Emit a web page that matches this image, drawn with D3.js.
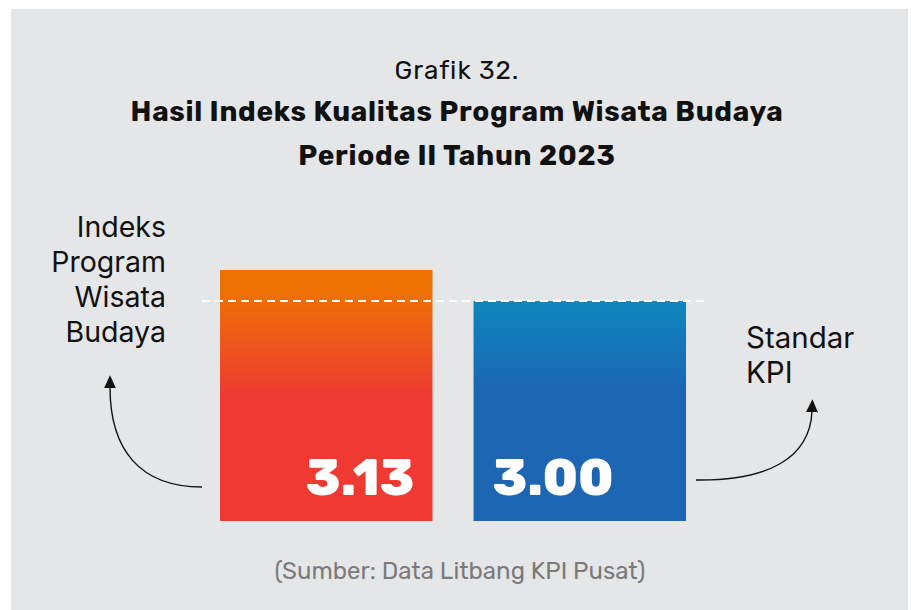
<!DOCTYPE html>
<html>
<head>
<meta charset="utf-8">
<script src="https://cdn.jsdelivr.net/npm/d3@7/dist/d3.min.js"></script>
<style>
  html, body { margin: 0; padding: 0; background: #ffffff; }
  svg { display: block; }
</style>
</head>
<body>
<script>
// Chart data
const categories = ["Indeks Program Wisata Budaya", "Standar KPI"];
const values = [3.13, 3.00];
const valueLabels = ["3.13", "3.00"];
const standardValue = 3.00;
const titleLines = ["Grafik 32.", "Hasil Indeks Kualitas Program Wisata Budaya", "Periode II Tahun 2023"];
const leftNote = ["Indeks", "Program", "Wisata", "Budaya"];
const rightNote = ["Standar", "KPI"];
const sourceText = "(Sumber: Data Litbang KPI Pusat)";

const W = 911, H = 610;
const svg = d3.select("body").append("svg").attr("width", W).attr("height", H);

// panel background
svg.append("rect").attr("x", 11).attr("y", 9).attr("width", 897).attr("height", H - 9).attr("fill", "#e5e6e8");

const defs = svg.append("defs");
const gOrange = defs.append("linearGradient").attr("id", "gradA").attr("x1", 0).attr("y1", 0).attr("x2", 0).attr("y2", 1);
gOrange.append("stop").attr("offset", "0.08").attr("stop-color", "#ee7203");
gOrange.append("stop").attr("offset", "0.5").attr("stop-color", "#ee3a33");
gOrange.append("stop").attr("offset", "1").attr("stop-color", "#ee3a33");
const gBlue = defs.append("linearGradient").attr("id", "gradB").attr("x1", 0).attr("y1", 0).attr("x2", 0).attr("y2", 1);
gBlue.append("stop").attr("offset", "0").attr("stop-color", "#0e87bd");
gBlue.append("stop").attr("offset", "0.4").attr("stop-color", "#1c66b4");
gBlue.append("stop").attr("offset", "1").attr("stop-color", "#1c66b4");
const marker = defs.append("marker").attr("id", "arrow").attr("viewBox", "0 0 10 10")
  .attr("refX", 1).attr("refY", 5).attr("markerWidth", 13).attr("markerHeight", 12)
  .attr("markerUnits", "userSpaceOnUse").attr("orient", "auto").attr("preserveAspectRatio", "none");
marker.append("path").attr("d", "M0,0 L10,5 L0,10 Z").attr("fill", "#111");

// scales
const x = d3.scaleBand().domain(categories).range([220, 686]).paddingInner(0.162);
const y = d3.scaleLinear().domain([2.08, 3.13]).range([521, 270]);

const fills = ["url(#gradA)", "url(#gradB)"];
svg.selectAll("rect.bar").data(values).join("rect")
  .attr("class", "bar")
  .attr("x", (d, i) => x(categories[i]))
  .attr("y", d => y(d))
  .attr("width", x.bandwidth())
  .attr("height", d => y.range()[0] - y(d))
  .attr("fill", (d, i) => fills[i]);

// standard reference line
svg.append("line")
  .attr("x1", 202).attr("x2", 708)
  .attr("y1", y(standardValue)).attr("y2", y(standardValue))
  .attr("stroke", "#ffffff").attr("stroke-width", 2)
  .attr("stroke-dasharray", "8,5");

// value labels
const font = "Rubik, Roboto, 'Noto Sans', sans-serif";
svg.selectAll("text.val").data(values).join("text")
  .attr("class", "val")
  .attr("x", (d, i) => i === 0 ? x(categories[i]) + x.bandwidth() - 18 : x(categories[i]) + 19)
  .attr("y", 495)
  .attr("text-anchor", (d, i) => i === 0 ? "end" : "start")
  .attr("font-family", font).attr("font-weight", 800).attr("font-size", 51)
  .attr("fill", "#ffffff")
  .text((d, i) => valueLabels[i]);

// titles
svg.append("text").attr("x", 457).attr("y", 79).attr("text-anchor", "middle")
  .attr("font-family", font).attr("font-size", 26).attr("letter-spacing", 1).attr("fill", "#111").text(titleLines[0]);
svg.append("text").attr("x", 457).attr("y", 121).attr("text-anchor", "middle")
  .attr("font-family", font).attr("font-weight", 700).attr("font-size", 28).attr("letter-spacing", 0.7).attr("fill", "#111").text(titleLines[1]);
svg.append("text").attr("x", 457).attr("y", 165).attr("text-anchor", "middle")
  .attr("font-family", font).attr("font-weight", 700).attr("font-size", 28).attr("letter-spacing", 0.7).attr("fill", "#111").text(titleLines[2]);

// side notes
const noteFont = "Inter, Roboto, sans-serif";
svg.append("text").attr("text-anchor", "end").attr("font-family", noteFont).attr("font-size", 28.5).attr("fill", "#111")
  .selectAll("tspan").data(leftNote).join("tspan")
  .attr("x", 166).attr("y", (d, i) => 237 + i * 35).text(d => d);
svg.append("text").attr("text-anchor", "start").attr("font-family", noteFont).attr("font-size", 29.5).attr("fill", "#111")
  .selectAll("tspan").data(rightNote).join("tspan")
  .attr("x", 746).attr("y", (d, i) => 348 + i * 35).text(d => d);

// curved arrows
svg.append("path").attr("d", "M202,487 C140,487 110,450 110,387")
  .attr("fill", "none").attr("stroke", "#111").attr("stroke-width", 1.4).attr("marker-end", "url(#arrow)");
svg.append("path").attr("d", "M696,480 C765,481 810,460 812,411")
  .attr("fill", "none").attr("stroke", "#111").attr("stroke-width", 1.4).attr("marker-end", "url(#arrow)");

// source
svg.append("text").attr("x", 460).attr("y", 579).attr("text-anchor", "middle")
  .attr("font-family", font).attr("font-size", 24).attr("fill", "#7a7a7a").text(sourceText);
</script>
</body>
</html>
